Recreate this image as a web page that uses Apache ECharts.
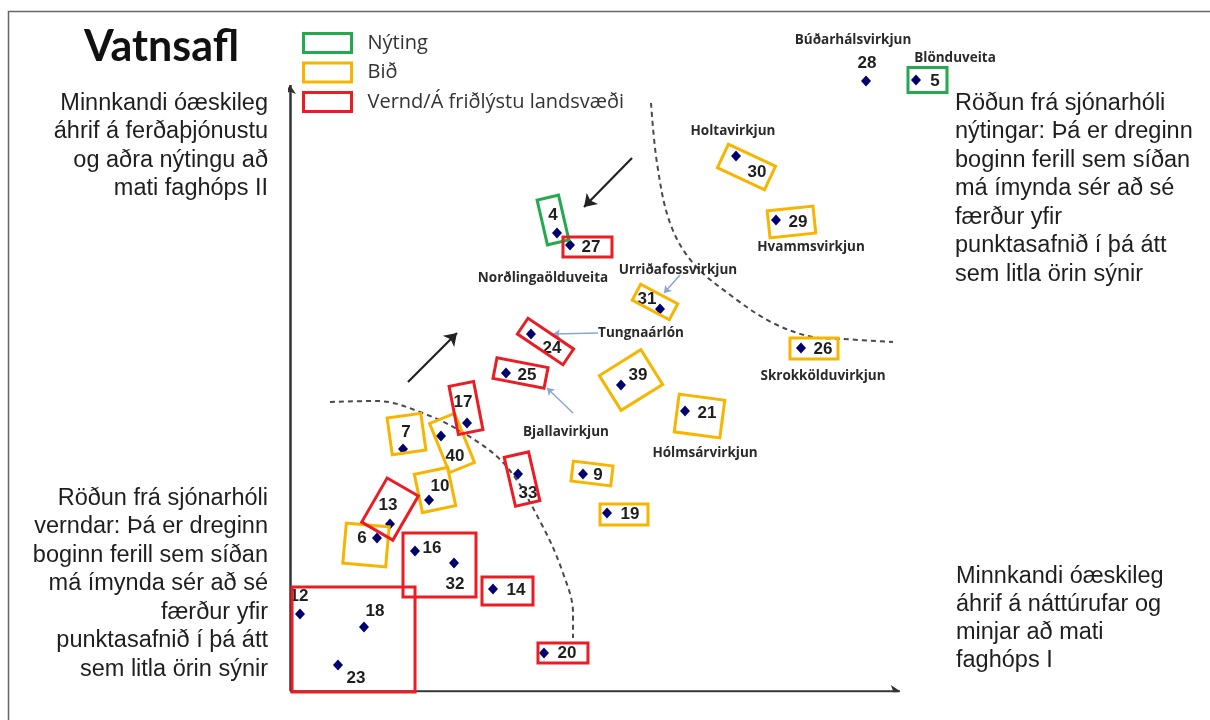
<!DOCTYPE html>
<html><head><meta charset="utf-8">
<script src="https://cdn.jsdelivr.net/npm/echarts@6/dist/echarts.min.js"></script>
<style>html,body{margin:0;padding:0;background:#fff}#c{width:1210px;height:720px}</style>
</head><body><div id="c"></div>
<script>
// ---- data ----
const pointIds = ['12','18','23','16','32','14','20','6','13','10','7','40','17','33','25','24','9','19','39','21','31','26','4','27','30','29','28','5'];
const pointX = [1.65,12.23,7.93,20.66,27.11,33.55,41.98,14.38,16.53,22.98,18.68,24.96,29.26,37.69,35.7,39.83,48.43,52.4,54.71,65.29,61.16,84.46,44.13,46.28,73.72,80.33,95.21,103.47];
const pointY = [12.83,10.67,4.33,23.33,21.33,17.0,6.33,25.5,27.83,31.83,40.33,42.5,44.67,36.17,53.0,59.5,36.17,29.67,51.0,46.67,63.67,57.17,76.33,74.33,89.17,78.5,101.67,101.83];

const plantNames = ['Búðarhálsvirkjun','Blönduveita','Holtavirkjun','Hvammsvirkjun','Norðlingaölduveita','Urriðafossvirkjun','Tungnaárlón','Skrokkölduvirkjun','Hólmsárvirkjun','Bjallavirkjun'];
const plantNameX = [93.06,109.92,73.22,86.12,41.82,64.13,58.02,88.1,68.6,45.62];
const plantNameY = [108.5,105.5,93.33,74.0,68.83,70.17,59.67,52.5,39.67,43.17];

const categories = ['Nýting','Bið','Vernd/Á friðlýstu landsvæði'];
// groups (boxes): category index, centre x, centre y
const groupCategory = [2,2,2,2,1,2,1,1,1,2,2,2,2,0,2,1,1,1,1,1,1,1,1,0];
const groupX = [10.50,24.71,35.95,45.12,12.56,16.53,23.97,19.26,26.78,29.09,38.35,38.1,42.23,43.47,49.17,60.33,56.36,67.69,49.92,55.21,86.61,75.45,82.89,105.37];
const groupY = [8.58,21.0,16.67,6.33,24.33,30.33,33.5,42.83,41.33,47.17,35.33,53.0,58.25,78.5,74.0,64.83,51.83,45.83,36.25,29.42,57.08,87.33,78.17,101.83];

// dashed boundary curves
const protectCurveX = [6.61,14.38,21.49,29.26,35.87,41.82,45.12,46.78,46.78];
const protectCurveY = [48.17,48.33,46.5,42.67,37.33,27.33,19.67,13.0,8.83];
const useCurveX = [59.67,60.66,62.81,66.61,73.22,79.83,86.45,91.4,99.67];
const useCurveY = [98.0,88.0,78.0,71.33,65.67,61.33,59.0,58.67,58.17];

// ---- layout (pixels) ----
const labelOffsets = [[-1,-18],[11,-16],[18,13],[17,-3],[1,21],[23,1],[23,0],[-15,0],[-2,-19],[11,-14],[3,-17],[14,20],[-4,-21],[10,19],[21,2],[21,14],[15,1],[23,1],[17,-10],[22,2],[-13,-10],[22,1],[-4,-18],[21,2],[21,16],[22,2],[1,-18],[19,1]];
// box size w,h (px) and clockwise angle (deg)
const groupBox = [[123,105,0],[73,64,0],[51,28,0],[50,20,0],[43,40,5],[36,51,30],[34,39,-12],[34,37,-8],[27,53,-22],[25,49,-11],[25,50,-13],[52,21,11],[55,19,34],[22,46,-13],[49,20,0],[42,18,28],[49,41,-32],[46,38,7.5],[40,20,7],[48,21,0],[48,21,0],[52,26,25],[46,27,-6],[39,25,0]];

const catColors = ['#25A94F','#F7B500','#EC1C24'];

const chart = echarts.init(document.getElementById('c'));

function boxSeries(ci) {
  const data = [];
  groupCategory.forEach((c, i) => { if (c === ci) data.push([groupX[i], groupY[i], groupBox[i][0], groupBox[i][1], groupBox[i][2]]); });
  return {
    type: 'custom', name: categories[ci], z: 4,
    data: data,
    encode: { x: 0, y: 1 },
    itemStyle: { color: catColors[ci] },
    renderItem: function (p, api) {
      const c = api.coord([api.value(0), api.value(1)]);
      const w = api.value(2), h = api.value(3), a = api.value(4);
      return {
        type: 'rect', x: c[0], y: c[1], rotation: -a * Math.PI / 180,
        shape: { x: -w / 2, y: -h / 2, width: w, height: h },
        style: { fill: 'none', stroke: catColors[ci], lineWidth: 3 }
      };
    }
  };
}

const textFont = '"Liberation Sans", Arial, sans-serif';

const option = {
  backgroundColor: '#fff',
  animation: false,
  title: {
    text: 'Vatnsafl', left: 84, top: 26, padding: 0,
    textStyle: { fontFamily: 'Lato', fontWeight: 'bold', fontSize: 43, color: '#111' }
  },
  legend: {
    orient: 'vertical', left: 302, top: 32, padding: 0, itemWidth: 48, itemHeight: 19, itemGap: 7.5,
    selectedMode: false,
    textStyle: { fontFamily: '"Open Sans", sans-serif', fontSize: 20, color: '#333', lineHeight: 21, padding: [0, 0, 0, 11] },
    data: categories.map((n, i) => ({ name: n, icon: 'rect', itemStyle: { color: 'rgba(0,0,0,0)', borderColor: catColors[i], borderWidth: 3 } }))
  },
  grid: { left: 290, top: 31, width: 726, height: 660 },
  xAxis: { type: 'value', min: 0, max: 120, show: false },
  yAxis: { type: 'value', min: 0, max: 110, show: false },
  graphic: [
    { type: 'rect', shape: { x: 8.5, y: 11.5, width: 1215, height: 730 }, style: { fill: 'none', stroke: '#666', lineWidth: 1.5 }, z: 0 },
    { type: 'text', x: 268, y: 89, style: { text: 'Minnkandi óæskileg\náhrif á ferðaþjónustu\nog aðra nýtingu að\nmati faghóps II', font: '23.5px ' + textFont, fill: '#1e1e1e', textAlign: 'right', textVerticalAlign: 'top', lineHeight: 28.5 } },
    { type: 'text', x: 268, y: 484, style: { text: 'Röðun frá sjónarhóli\nverndar: Þá er dreginn\nboginn ferill sem síðan\nmá ímynda sér að sé\nfærður yfir\npunktasafnið í þá átt\nsem litla örin sýnir', font: '23.5px ' + textFont, fill: '#1e1e1e', textAlign: 'right', textVerticalAlign: 'top', lineHeight: 28.5 } },
    { type: 'text', x: 955, y: 89, style: { text: 'Röðun frá sjónarhóli\nnýtingar: Þá er dreginn\nboginn ferill sem síðan\nmá ímynda sér að sé\nfærður yfir\npunktasafnið í þá átt\nsem litla örin sýnir', font: '23.5px ' + textFont, fill: '#1e1e1e', textAlign: 'left', textVerticalAlign: 'top', lineHeight: 28.5 } },
    { type: 'text', x: 956, y: 563, style: { text: 'Minnkandi óæskileg\náhrif á náttúrufar og\nminjar að mati\nfaghóps I', font: '23.5px ' + textFont, fill: '#1e1e1e', textAlign: 'left', textVerticalAlign: 'top', lineHeight: 28 } }
  ],
  series: [
    // axes with arrows
    { type: 'lines', coordinateSystem: 'cartesian2d', z: 1, symbol: ['none', 'arrow'], symbolSize: 9,
      lineStyle: { color: '#333', width: 2.5, opacity: 1 },
      data: [{ coords: [[0, 0], [0, 101]] }, { coords: [[0, 0], [100.8, 0]] }] },
    // dashed curves
    { type: 'line', smooth: 0.35, symbol: 'none', z: 1, data: protectCurveX.map((x, i) => [x, protectCurveY[i]]),
      lineStyle: { color: '#4a4a4a', width: 2, type: [5, 4] } },
    { type: 'line', smooth: 0.35, symbol: 'none', z: 1, data: useCurveX.map((x, i) => [x, useCurveY[i]]),
      lineStyle: { color: '#4a4a4a', width: 2, type: [5, 4] } },
    // black direction arrows
    { type: 'lines', coordinateSystem: 'cartesian2d', z: 2, symbol: ['none', 'arrow'], symbolSize: 12,
      lineStyle: { color: '#222', width: 2.2, opacity: 1 },
      data: [{ coords: [[56.53, 88.83], [48.6, 80.67]] }, { coords: [[19.5, 51.5], [27.6, 59.67]] }] },
    // thin blue pointer arrows
    { type: 'lines', coordinateSystem: 'cartesian2d', z: 2, symbol: ['none', 'arrow'], symbolSize: 7,
      lineStyle: { color: '#8AA6D6', width: 1.5, opacity: 1 },
      data: [{ coords: [[64.46, 69.33], [61.82, 66.33]] }, { coords: [[50.91, 59.67], [43.47, 59.5]] }, { coords: [[46.78, 46.33], [42.48, 50.5]] }] },
    // points
    { type: 'scatter', z: 3, symbol: 'diamond', symbolSize: [10, 11],
      itemStyle: { color: '#00006E', opacity: 1 },
      label: { show: true, position: 'inside', formatter: '{b}', fontFamily: textFont, fontWeight: 'bold', fontSize: 17, color: '#1e1e1e' },
      data: pointIds.map((id, i) => ({ name: id, value: [pointX[i], pointY[i]], label: { offset: labelOffsets[i] } })) },
    // plant names
    { type: 'custom', z: 3, data: plantNameX.map((x, i) => [x, plantNameY[i]]), encode: { x: 0, y: 1 },
      renderItem: function (p, api) {
        const c = api.coord([api.value(0), api.value(1)]);
        return { type: 'text', x: c[0], y: c[1], style: { text: plantNames[p.dataIndex], textAlign: 'center', textVerticalAlign: 'middle', font: 'bold 13.5px "Open Sans", sans-serif', fill: '#2a2a2a' } };
      } },
    boxSeries(0), boxSeries(1), boxSeries(2)
  ]
};
chart.setOption(option);
</script></body></html>
